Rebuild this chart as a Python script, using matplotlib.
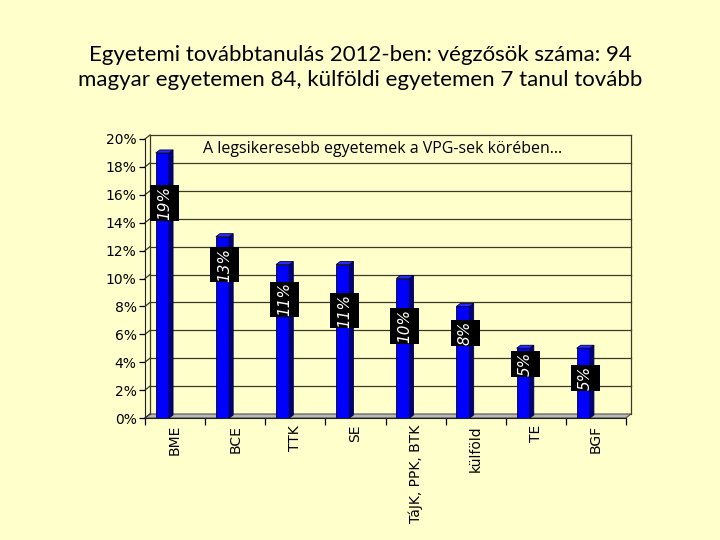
import matplotlib.pyplot as plt
from matplotlib.patches import Polygon, Rectangle

plt.rcParams["font.family"] = ["DejaVu Sans"]

# Data
categories = ["BME", "BCE", "TTK", "SE", "TáJK, PPK, BTK", "külföld", "TE", "BGF"]
values = [19, 13, 11, 11, 10, 8, 5, 5]

# where the value boxes sit (in % units)
label_pos = [15.4, 11.0, 8.5, 7.7, 6.6, 6.1, 3.9, 2.9]

title = ("Egyetemi továbbtanulás 2012-ben: végzősök száma: 94\n"
         "magyar egyetemen 84, külföldi egyetemen 7 tanul tovább")
note = "A legsikeresebb egyetemek a VPG-sek körében…"

bg = "#FFFFCC"
fig = plt.figure(figsize=(7.2, 5.4), dpi=100, facecolor=bg)
ax = fig.add_axes([145 / 720, 1 - 418 / 540, 481 / 720, 279 / 540])
ax.set_facecolor("none")
ax.set_xlim(-0.5, 7.5)
ax.set_ylim(0, 20)

# pixel -> data units
ux = 8 / 481
uy = 20 / 279
wdx, wdy = 5 * ux, 4 * uy   # back wall shift
bdx, bdy = 4 * ux, 3 * uy   # bar depth

# back wall + floor
floor = Polygon([(-0.5, 0), (7.5, 0), (7.5 + wdx, wdy), (-0.5 + wdx, wdy)],
                closed=True, facecolor="#B8B8B8", edgecolor="#505050",
                lw=0.8, clip_on=False, zorder=1)
ax.add_patch(floor)
for g in range(2, 22, 2):
    ax.plot([-0.5 + wdx, 7.5 + wdx], [g + wdy, g + wdy], color="#3A3A2A",
            lw=0.9, clip_on=False, zorder=1)
for g in range(0, 22, 2):
    ax.plot([-0.5, -0.5 + wdx], [g, g + wdy], color="#3A3A2A",
            lw=0.9, clip_on=False, zorder=1)
ax.plot([-0.5 + wdx, -0.5 + wdx], [wdy, 20 + wdy], color="#3A3A2A",
        lw=0.9, clip_on=False, zorder=1)
ax.plot([7.5 + wdx, 7.5 + wdx], [wdy, 20 + wdy], color="#3A3A2A",
        lw=0.9, clip_on=False, zorder=1)

# bars
xs = [i - 0.21 for i in range(len(values))]
ax.bar(xs, values, width=0.22, color="#0000FF", edgecolor="#000033",
       lw=0.6, zorder=3)
for x, v in zip(xs, values):
    xl, xr = x - 0.11, x + 0.11
    side = Polygon([(xr, 0), (xr + bdx, bdy), (xr + bdx, v + bdy), (xr, v)],
                   closed=True, facecolor="#00007A", edgecolor="#000033",
                   lw=0.6, zorder=3)
    top = Polygon([(xl, v), (xr, v), (xr + bdx, v + bdy), (xl + bdx, v + bdy)],
                  closed=True, facecolor="#2A2AFF", edgecolor="#000033",
                  lw=0.6, zorder=3)
    ax.add_patch(side)
    ax.add_patch(top)

# value labels
for x, v, p in zip(xs, values, label_pos):
    txt = f"{v}%"
    cx = x + bdx / 2
    w = 29 * ux
    h = (9.5 * len(txt) + 7) * uy
    ax.add_patch(Rectangle((cx - w / 2, p - h / 2), w, h, facecolor="black",
                           edgecolor="none", zorder=4))
    ax.text(cx, p, txt, rotation=90, color="white", fontsize=11,
            family="DejaVu Sans", style="italic", ha="center", va="center",
            zorder=5)

# axes
for s in ["top", "right"]:
    ax.spines[s].set_visible(False)
ax.spines["left"].set_color("#202020")
ax.spines["bottom"].set_color("#202020")
ax.set_yticks(range(0, 22, 2))
ax.set_yticklabels([f"{g}%" for g in range(0, 22, 2)], fontsize=10,
                   family="DejaVu Sans")
ax.tick_params(axis="y", length=4, width=0.9, pad=2)
ax.set_xticks([i - 0.5 for i in range(len(categories) + 1)])
ax.set_xticklabels([])
ax.tick_params(axis="x", which="major", length=5, width=0.9)
ax.set_xticks(range(len(categories)), minor=True)
ax.set_xticklabels(categories, minor=True, rotation=90, fontsize=10,
                   family="DejaVu Sans")
ax.tick_params(axis="x", which="minor", length=0, pad=5)

ax.text(0.47, 19.3, note, fontsize=11.5, family="Open Sans", va="center",
        ha="left", zorder=5)

fig.text(0.5, 0.875, title, ha="center", va="center", fontsize=16,
         family=["Lato", "DejaVu Sans"], linespacing=1.35)

plt.savefig("out.png", dpi=100, facecolor=bg)
